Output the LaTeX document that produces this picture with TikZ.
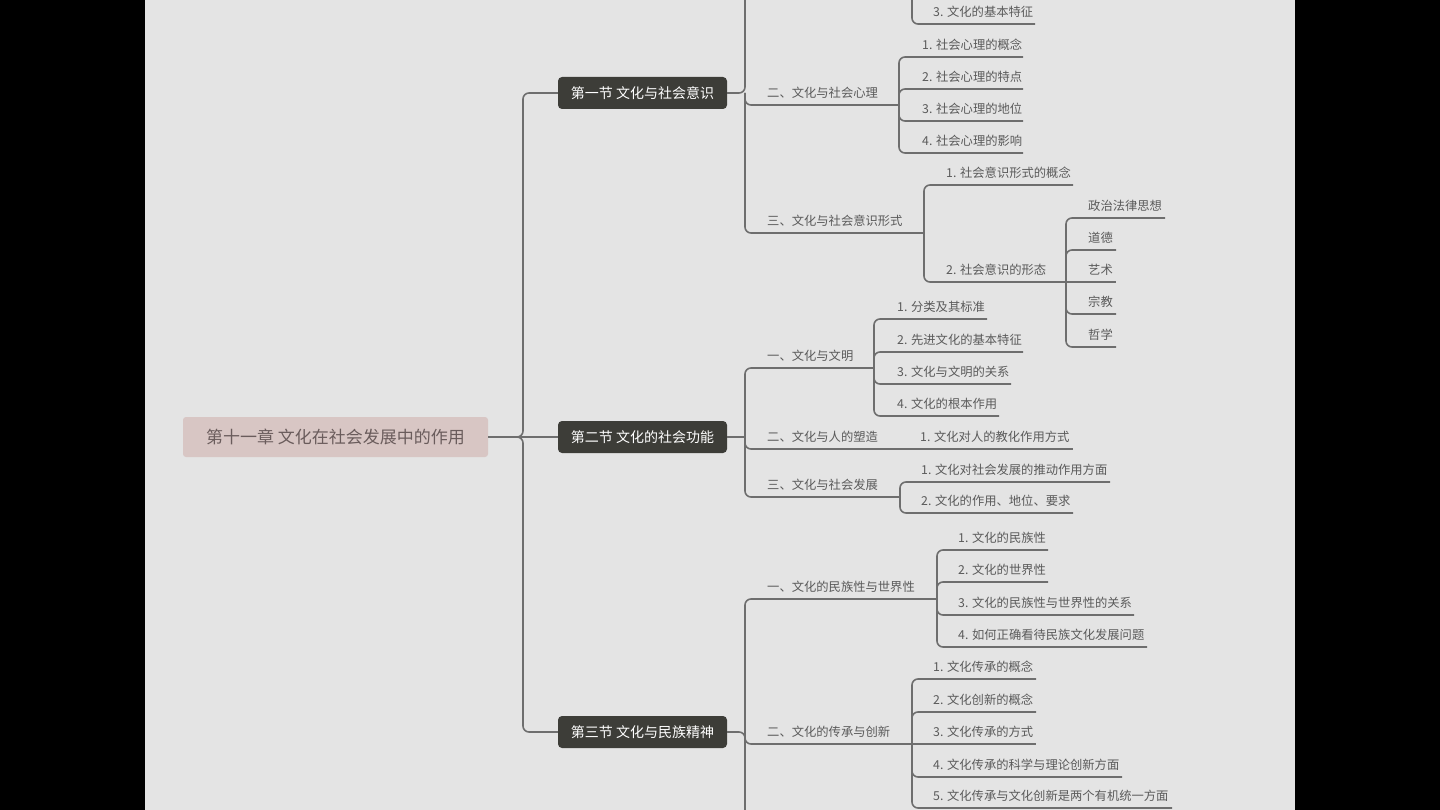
\documentclass[tikz,border=0pt]{standalone}
\usepackage{fontspec}
\newfontfamily\cjk{Noto Sans CJK SC}
\definecolor{bgc}{HTML}{E4E4E4}
\definecolor{linec}{HTML}{6E6E6E}
\definecolor{txtc}{HTML}{5A5A5A}
\definecolor{secc}{HTML}{3D3D38}
\definecolor{rootc}{HTML}{D8C6C4}
\definecolor{roottxt}{HTML}{6A5C5C}
\tikzset{
 conn/.style={draw=linec, line width=1.6pt, rounded corners=6pt},
 lbl/.style={anchor=base west, inner sep=0pt, font=\cjk\fontsize{12.3}{14}\selectfont, text=txtc},
 secbox/.style={fill=secc, rounded corners=4pt, minimum width=169pt, minimum height=32pt, inner sep=0pt, text=white, font=\cjk\fontsize{14}{16}\selectfont},
 rootbox/.style={fill=rootc, rounded corners=3pt, minimum width=305pt, minimum height=40pt, inner sep=0pt, text=roottxt, font=\cjk\fontsize{17}{19}\selectfont}
}
\newcommand\kid[6]{%
 \coordinate (#1e) at (#5,#4);
 \node[lbl] (#1) at (#3,#4-7.5) {#6};
 \draw[conn] (#2) |- (#1e);
}
\newcommand\kidline[6]{%
 \coordinate (#1e) at (#5,#4);
 \node[lbl] (#1) at (#3,#4-7.5) {#6};
 \draw[conn] (#2) -- (#1e);
}
\begin{document}
\begin{tikzpicture}[x=1pt,y=-1pt]
\useasboundingbox (0,0) rectangle (1440,810);
\fill[black] (0,0) rectangle (1440,810);
\fill[bgc] (145,0) rectangle (1295,810);
\begin{scope}
\clip (145,0) rectangle (1295,810);
% root and sections
\node[rootbox] (root) at (335.5,437) {第十一章 文化在社会发展中的作用};
\node[secbox] (sec1) at (642.5,93) {第一节 文化与社会意识};
\node[secbox] (sec2) at (642.5,437) {第二节 文化的社会功能};
\node[secbox] (sec3) at (642.5,732) {第三节 文化与民族精神};
\coordinate (rt) at (523,437);
\draw[conn] (root.east) -- (sec2.west);
\draw[conn] (root.east) -- (rt) |- (sec1.west);
\draw[conn] (root.east) -- (rt) |- (sec3.west);
% section 1
\coordinate (s1t) at (745,93);
\draw[conn] (sec1.east) -- (s1t) -- (745,-20);
\coordinate (s1ae) at (912,-20);
\kid{s1a3}{s1ae}{933}{24}{1035}{3. 文化的基本特征}
\kid{s1b}{s1t}{767}{105}{899}{二、文化与社会心理}
\kid{s1b1}{s1be}{922}{57}{1023}{1. 社会心理的概念}
\kid{s1b2}{s1be}{922}{89}{1023}{2. 社会心理的特点}
\kid{s1b3}{s1be}{922}{121}{1023}{3. 社会心理的地位}
\kid{s1b4}{s1be}{922}{153}{1023}{4. 社会心理的影响}
\kid{s1c}{s1t}{767}{233}{924}{三、文化与社会意识形式}
\kid{s1c1}{s1ce}{946}{185}{1073}{1. 社会意识形式的概念}
\kid{s1c2}{s1ce}{946}{282}{1066}{2. 社会意识的形态}
\kid{s1c2-1}{s1c2e}{1088}{218}{1165}{政治法律思想}
\kid{s1c2-2}{s1c2e}{1088}{250}{1116}{道德}
\kidline{s1c2-3}{s1c2e}{1088}{282}{1116}{艺术}
\kid{s1c2-4}{s1c2e}{1088}{314}{1116}{宗教}
\kid{s1c2-5}{s1c2e}{1088}{347}{1116}{哲学}
% section 2
\coordinate (s2t) at (745,437);
\draw[conn] (sec2.east) -- (s2t);
\kid{s2a}{s2t}{767}{368}{874}{一、文化与文明}
\kid{s2a1}{s2ae}{897}{319}{987}{1. 分类及其标准}
\kid{s2a2}{s2ae}{897}{352}{1023}{2. 先进文化的基本特征}
\kid{s2a3}{s2ae}{897}{384}{1011}{3. 文化与文明的关系}
\kid{s2a4}{s2ae}{897}{416}{999}{4. 文化的根本作用}
\kid{s2b}{s2t}{767}{449}{900}{二、文化与人的塑造}
\kidline{s2b1}{s2be}{920}{449}{1073}{1. 文化对人的教化作用方式}
\kid{s2c}{s2t}{767}{497}{900}{三、文化与社会发展}
\kid{s2c1}{s2ce}{921}{482}{1110}{1. 文化对社会发展的推动作用方面}
\kid{s2c2}{s2ce}{921}{513}{1073}{2. 文化的作用、地位、要求}
% section 3
\coordinate (s3t) at (745,732);
\draw[conn] (sec3.east) -- (s3t) -- (745,830);
\kid{s3a}{s3t}{767}{599}{937}{一、文化的民族性与世界性}
\kid{s3a1}{s3ae}{958}{550}{1048}{1. 文化的民族性}
\kid{s3a2}{s3ae}{958}{582}{1048}{2. 文化的世界性}
\kid{s3a3}{s3ae}{958}{615}{1134}{3. 文化的民族性与世界性的关系}
\kid{s3a4}{s3ae}{958}{647}{1147}{4. 如何正确看待民族文化发展问题}
\kid{s3b}{s3t}{767}{744}{912}{二、文化的传承与创新}
\kid{s3b1}{s3be}{933}{679}{1036}{1. 文化传承的概念}
\kid{s3b2}{s3be}{933}{712}{1036}{2. 文化创新的概念}
\kidline{s3b3}{s3be}{933}{744}{1036}{3. 文化传承的方式}
\kid{s3b4}{s3be}{933}{777}{1122}{4. 文化传承的科学与理论创新方面}
\kid{s3b5}{s3be}{933}{808}{1172}{5. 文化传承与文化创新是两个有机统一方面}
\end{scope}
\end{tikzpicture}
\end{document}
